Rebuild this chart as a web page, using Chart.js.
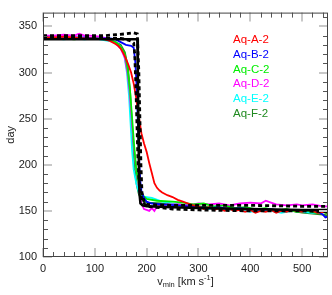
<!DOCTYPE html>
<html><head><meta charset="utf-8">
<script src="https://cdn.jsdelivr.net/npm/chart.js@4/dist/chart.umd.min.js"></script>
<style>html,body{margin:0;padding:0;background:#fff;}canvas{display:block;}</style>
</head><body>
<canvas id="c" width="332" height="295"></canvas>
<script>
const xTicks = [0,100,200,300,400,500];
const yTicks = [100,150,200,250,300,350];
const seriesNames = ['Aq-A-2','Aq-B-2','Aq-C-2','Aq-D-2','Aq-E-2','Aq-F-2'];
const seriesColors = ['#ff0000','#0000ff','#00ee00','#ff00ff','#00ffff','#208a20'];

const vA = [0,20,40,60,80,100,120,130,140,145,150,155,160,165,170,175,180,185,190,195,200,205,210,215,220,225,230,240,250,260,270,280,290,300,310,320,330,340,350,360,370,380,390,400,410,420,430,440,450,460,470,480,490,500,510,520,530,540,550];
const dA = [338,338,339,338,337,337,336,334,331,329,326,321,315,308,300,288,272,252,234,223,214,202,191,180,175,172,170,167,165,162,160,158,156,155,152,154,151,153,150,152,150,151,149,151,148,150,149,151,148,150,149,151,150,149,151,150,148,149,148];

const vB = [0,20,40,60,80,100,120,130,140,150,160,170,175,178,180,182,184,186,188,190,195,200,210,230,260,280,300,320,340,360,380,400,420,440,460,480,500,520,530,540,545,550];
const dB = [338,338,337,338,338,337,337,337,336,333,330,329,327,312,292,262,230,200,181,171,164,160,158,157,156,155,154,153,154,152,153,152,151,152,150,151,150,151,149,146,143,144];

const vC = [0,20,40,60,80,100,120,130,140,150,158,163,168,172,176,180,185,190,200,220,250,270,290,310,330,350,370,390,410,430,450,470,490,510,530,540,550];
const dC = [337,337,337,336,337,337,336,335,333,328,320,305,280,250,220,195,178,168,163,161,160,159,157,158,155,156,153,154,152,153,150,152,149,150,148,149,147];

const vD = [0,20,40,60,70,80,90,110,130,140,150,158,163,167,171,176,180,184,187,190,195,200,205,210,215,220,240,260,280,300,320,340,360,380,400,420,430,440,450,470,490,500,520,540,550];
const dD = [340,340,341,340,342,340,340,339,336,332,326,316,300,280,250,215,195,180,168,158,152,151,150,153,150,155,157,157,156,158,157,158,156,158,159,158,161,159,157,156,157,156,157,155,155];

const vE = [0,20,40,60,80,100,120,140,150,157,162,166,169,172,175,180,185,190,200,210,230,260,280,300,320,340,360,380,400,420,440,460,480,500,520,540,550];
const dE = [337,337,336,337,336,337,335,333,328,318,300,275,245,215,195,180,170,166,165,164,160,157,156,154,152,153,151,152,149,151,150,148,150,149,148,149,148];

const vF = [0,20,40,60,80,100,120,130,140,150,158,164,168,171,174,177,181,185,190,200,230,260,280,300,320,340,360,380,400,420,440,460,480,500,520,540,550];
const dF = [337,337,337,337,337,337,336,335,333,330,322,305,280,250,220,195,178,168,162,159,158,157,156,155,154,152,153,151,152,150,151,149,150,148,147,146,145];

const vK1 = [0,40,80,120,150,175,182,183,184,185,186,188,192,200,250,300,400,500,550];
const dK1 = [336,336,336,336,336,336,336,300,250,200,170,158,156,155,154,153,152,151,151];

const vK2 = [0,40,80,120,140,160,175,182,185,187,189,191,195,200,250,300,400,500,550];
const dK2 = [340,340,340,340,341,342,343,342,300,250,200,170,160,157,156,156,156,155,155];

const vK3 = [0,40,80,120,150,160,170,175,177,179,181,183,185,188,192,200,250,300,400,500,550];
const dK3 = [337,337,337,337,337,336,334,332,320,290,250,210,185,170,160,155,152,151,150,150,149];

function pts(v,d){return v.map((x,i)=>({x:x,y:d[i]}));}

const datasets = [
  {label:'', data:pts(vK1,dK1), borderColor:'#000', borderWidth:2.5, borderDash:[]},
  {label:'', data:pts(vK2,dK2), borderColor:'#000', borderWidth:2.8, borderDash:[4,3]},
  {label:'', data:pts(vK3,dK3), borderColor:'#000', borderWidth:2.8, borderDash:[4,3]},
];
const colData = [[vA,dA],[vB,dB],[vC,dC],[vD,dD],[vE,dE],[vF,dF]];
colData.forEach((p,i)=>datasets.push({label:seriesNames[i], data:pts(p[0],p[1]), borderColor:seriesColors[i], borderWidth:1.8}));
datasets.forEach(d=>{d.pointRadius=0;d.fill=false;d.tension=0;d.stepped=false;});

const FONT = "'Liberation Sans', Arial, sans-serif";

const decor = {
  id:'decor',
  afterDraw(chart){
    const ctx = chart.ctx, a = chart.chartArea;
    const xs = chart.scales.x, ys = chart.scales.y;
    ctx.save();
    ctx.strokeStyle = '#555'; ctx.lineWidth = 1;
    ctx.beginPath();
    for(let v=20; v<550; v+=20){
      if(v%100===0) continue;
      const px = Math.round(xs.getPixelForValue(v))+0.5;
      ctx.moveTo(px,a.bottom); ctx.lineTo(px,a.bottom-5);
      ctx.moveTo(px,a.top); ctx.lineTo(px,a.top+5);
    }
    for(let v=110; v<365; v+=10){
      if(v%50===0) continue;
      const py = Math.round(ys.getPixelForValue(v))+0.5;
      ctx.moveTo(a.left,py); ctx.lineTo(a.left+5,py);
      ctx.moveTo(a.right,py); ctx.lineTo(a.right-5,py);
    }
    ctx.stroke();
    ctx.strokeStyle = '#c8c8c8'; ctx.lineWidth = 2;
    ctx.beginPath();
    xTicks.forEach(v=>{
      const px = Math.round(xs.getPixelForValue(v));
      ctx.moveTo(px,a.bottom); ctx.lineTo(px,a.bottom-9);
      ctx.moveTo(px,a.top); ctx.lineTo(px,a.top+9);
    });
    yTicks.forEach(v=>{
      const py = Math.round(ys.getPixelForValue(v));
      ctx.moveTo(a.left,py); ctx.lineTo(a.left+9,py);
      ctx.moveTo(a.right,py); ctx.lineTo(a.right-9,py);
    });
    ctx.stroke();
    ctx.strokeStyle = '#444'; ctx.lineWidth = 1;
    ctx.strokeRect(a.left+0.5, a.top+0.5, a.right-a.left-1, a.bottom-a.top-1);
    ctx.font = '11.5px '+FONT;
    ctx.textAlign = 'left'; ctx.textBaseline = 'middle';
    let row = 0;
    chart.data.datasets.forEach(d=>{
      if(!d.label) return;
      ctx.fillStyle = d.borderColor;
      ctx.fillText(d.label, 233, 40 + row*14.7);
      row++;
    });
    ctx.fillStyle = '#222';
    ctx.font = '11px '+FONT;
    ctx.save();
    ctx.translate(11, (a.top+a.bottom)/2);
    ctx.rotate(-Math.PI/2);
    ctx.textAlign='center'; ctx.textBaseline='middle';
    ctx.fillText('day',0,0);
    ctx.restore();
    const parts = [['v',11,0],['min',7.5,3],[' [km s',11,0],['-1',7.5,-4],[']',11,0]];
    let w = 0;
    parts.forEach(p=>{ctx.font=p[1]+'px '+FONT; w+=ctx.measureText(p[0]).width;});
    let x = (a.left+a.right)/2 - w/2;
    ctx.textAlign='left'; ctx.textBaseline='middle';
    parts.forEach(p=>{ctx.font=p[1]+'px '+FONT; ctx.fillText(p[0],x,282+p[2]); x+=ctx.measureText(p[0]).width;});
    ctx.restore();
  }
};

new Chart(document.getElementById('c'), {
  type:'line',
  data:{datasets:datasets},
  options:{
    responsive:false, animation:false,
    layout:{padding:{top:3,right:4,left:0,bottom:0}},
    plugins:{legend:{display:false}, tooltip:{enabled:false}},
    scales:{
      x:{type:'linear', min:0, max:550,
        grid:{display:false, drawTicks:false}, border:{display:false},
        ticks:{font:{size:11,family:FONT}, color:'#222', padding:5, maxRotation:0},
        afterBuildTicks:s=>{s.ticks = xTicks.map(v=>({value:v}));},
        afterFit:s=>{s.height=38;}
      },
      y:{type:'linear', min:100, max:365,
        grid:{display:false, drawTicks:false}, border:{display:false},
        ticks:{font:{size:11,family:FONT}, color:'#222', padding:6},
        afterBuildTicks:s=>{s.ticks = yTicks.map(v=>({value:v}));},
        afterFit:s=>{s.width=43;}
      }
    }
  },
  plugins:[decor]
});
</script>
</body></html>
